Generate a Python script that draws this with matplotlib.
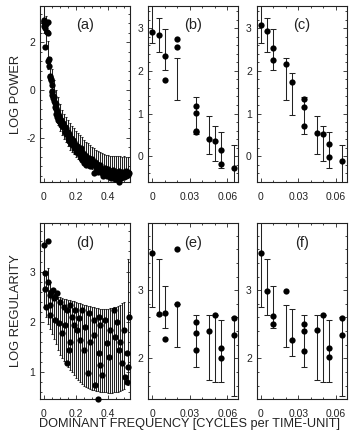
import matplotlib
matplotlib.use("Agg")
import matplotlib.pyplot as plt
from matplotlib.ticker import AutoMinorLocator
import numpy as np

plt.rcParams['font.family'] = ['Liberation Sans', 'DejaVu Sans']
plt.rcParams['axes.unicode_minus'] = False

# ---------------- data ----------------
# panel (a): error bars (frequency grid, low, high) and dots
a_bar_f = [0.0, 0.0125, 0.025, 0.0375, 0.05, 0.0625, 0.075, 0.0875, 0.1, 0.1125, 0.125, 0.1375,
           0.15, 0.1625, 0.175, 0.1875, 0.2, 0.2125, 0.225, 0.2375, 0.25, 0.2625, 0.275, 0.2875,
           0.3, 0.3125, 0.325, 0.3375, 0.35, 0.3625, 0.375, 0.3875, 0.4, 0.4125, 0.425, 0.4375,
           0.45, 0.4625, 0.475, 0.4875, 0.5, 0.5125, 0.525]
a_bar_hi = [3.6, 3.1, 2.05, 1.4, 0.9, 0.4, 0.0, -0.3, -0.6, -0.86, -1.0, -1.12,
            -1.25, -1.38, -1.5, -1.6, -1.7, -1.8, -1.9, -1.98, -2.08, -2.17, -2.24, -2.32,
            -2.38, -2.45, -2.5, -2.56, -2.6, -2.65, -2.68, -2.71, -2.73, -2.75, -2.76, -2.77,
            -2.77, -2.78, -2.78, -2.79, -2.78, -2.8, -2.8]
a_bar_lo = [2.4, 1.9, 0.9, 0.3, -0.3, -0.8, -1.15, -1.45, -1.7, -1.9, -2.05, -2.2,
            -2.35, -2.5, -2.6, -2.7, -2.8, -2.9, -2.95, -3.0, -3.1, -3.15, -3.2, -3.25,
            -3.3, -3.35, -3.4, -3.45, -3.45, -3.5, -3.5, -3.55, -3.55, -3.55, -3.6, -3.6,
            -3.62, -3.62, -3.62, -3.64, -3.64, -3.65, -3.65]
a_dot_f = [0.0, 0.0, 0.005, 0.005, 0.01, 0.01, 0.015, 0.02, 0.025, 0.025, 0.03, 0.035, 0.035,
           0.04, 0.04, 0.045, 0.045, 0.05, 0.05, 0.055, 0.055, 0.06, 0.06, 0.065, 0.065,
           0.07, 0.07, 0.075, 0.075, 0.08, 0.08, 0.085, 0.085, 0.09, 0.09, 0.095, 0.095,
           0.1, 0.1, 0.11, 0.11, 0.12, 0.12, 0.125, 0.13, 0.13, 0.14, 0.14, 0.15, 0.15, 0.155,
           0.16, 0.16, 0.17, 0.17, 0.18, 0.18, 0.19, 0.19, 0.2, 0.2, 0.21, 0.21, 0.22, 0.22,
           0.23, 0.23, 0.24, 0.24, 0.25, 0.25, 0.26, 0.26, 0.27, 0.27, 0.28, 0.28, 0.29, 0.29,
           0.3, 0.3, 0.31, 0.31, 0.32, 0.32, 0.33, 0.33, 0.34, 0.34, 0.35, 0.35, 0.36, 0.36,
           0.37, 0.37, 0.38, 0.38, 0.39, 0.39, 0.4, 0.4, 0.41, 0.41, 0.42, 0.42, 0.43, 0.43,
           0.44, 0.44, 0.45, 0.45, 0.46, 0.46, 0.47, 0.47, 0.48, 0.48, 0.49, 0.49, 0.5, 0.5,
           0.51, 0.51, 0.52, 0.52, 0.53]
a_dot_v = [2.95, 2.85, 2.9, 2.7, 2.6, 1.82, 2.75, 2.45, 2.85, 2.4, 1.2, 1.3, 1.0,
           0.6, 0.55, 0.4, 0.45, 0.2, -0.05, -0.1, -0.2, -0.25, -0.35, -0.3, -0.45,
           -0.55, -0.7, -0.6, -0.8, -0.75, -1.0, -0.9, -1.15, -1.0, -1.25, -1.1, -1.3,
           -1.2, -1.35, -1.25, -1.45, -1.4, -1.55, -1.5, -1.55, -1.75, -1.6, -1.85, -1.75, -2.0, -1.95,
           -1.85, -2.15, -2.0, -2.25, -2.1, -2.3, -2.2, -2.45, -2.3, -2.6, -2.35, -2.55, -2.5, -2.7,
           -2.45, -2.85, -2.6, -2.95, -2.7, -3.05, -2.75, -3.15, -2.9, -3.1, -2.85, -3.15, -3.0, -3.2,
           -3.05, -2.9, -3.5, -3.1, -3.2, -3.0, -3.3, -3.1, -3.25, -3.45, -3.35, -3.15, -3.5, -3.3,
           -3.4, -3.6, -3.25, -3.5, -3.45, -3.6, -3.3, -3.55, -3.65, -3.4, -3.5, -3.7, -3.35, -3.6,
           -3.55, -3.75, -3.45, -3.65, -3.7, -3.5, -3.87, -3.4, -3.55, -3.7, -3.45, -3.6, -3.65, -3.5,
           -3.4, -3.6, -3.55, -3.45, -3.5]

# panels (b), (c)
b_bar_f = [0.0, 0.005, 0.01, 0.02, 0.035, 0.045, 0.05, 0.055, 0.065]
b_bar_lo = [2.65, 2.44, 2.01, 1.31, 0.51, 0.06, -0.12, -0.28, -0.75]
b_bar_hi = [3.8, 3.23, 2.99, 2.31, 1.39, 0.95, 0.72, 0.56, 0.26]
b_dot_f = [0.0, 0.005, 0.01, 0.01, 0.02, 0.02, 0.035, 0.035, 0.035, 0.035, 0.045, 0.05, 0.055, 0.055, 0.065]
b_dot_v = [2.92, 2.83, 2.35, 1.78, 2.74, 2.57, 1.17, 1.01, 0.60, 0.56, 0.41, 0.36, 0.14, -0.19, -0.28]

c_bar_f = [0.0, 0.005, 0.01, 0.02, 0.025, 0.035, 0.045, 0.05, 0.055, 0.065]
c_bar_lo = [2.65, 2.44, 2.01, 1.31, 0.97, 0.51, 0.06, -0.12, -0.28, -0.75]
c_bar_hi = [3.8, 3.23, 2.99, 2.30, 1.96, 1.39, 0.95, 0.72, 0.56, 0.26]
c_dot_f = [0.0, 0.005, 0.01, 0.01, 0.02, 0.025, 0.035, 0.035, 0.035, 0.045, 0.05, 0.055, 0.055, 0.065]
c_dot_v = [3.08, 2.94, 2.53, 2.25, 2.16, 1.74, 1.33, 1.15, 0.72, 0.55, 0.51, 0.29, -0.02, -0.12]

# panel (d)
d_bar_f = [0.0, 0.0125, 0.025, 0.0375, 0.05, 0.0625, 0.075, 0.0875, 0.1, 0.1125, 0.125, 0.1375,
           0.15, 0.1625, 0.175, 0.1875, 0.2, 0.2125, 0.225, 0.2375, 0.25, 0.2625, 0.275, 0.2875,
           0.3, 0.3125, 0.325, 0.3375, 0.35, 0.3625, 0.375, 0.3875, 0.4, 0.4125, 0.425, 0.4375,
           0.45, 0.4625, 0.475, 0.4875, 0.5, 0.52]
d_bar_hi = [4.3, 3.0, 3.07, 2.8, 2.62, 2.56, 2.52, 2.5, 2.49, 2.47, 2.46, 2.45,
            2.44, 2.43, 2.42, 2.41, 2.4, 2.38, 2.37, 2.36, 2.34, 2.33, 2.32, 2.31,
            2.3, 2.29, 2.28, 2.27, 2.26, 2.25, 2.25, 2.25, 2.26, 2.27, 2.28, 2.29,
            2.3, 2.32, 2.34, 2.37, 2.4, 3.26]
d_bar_lo = [2.3, 2.1, 1.95, 1.85, 1.75, 1.65, 1.55, 1.45, 1.35, 1.28, 1.22, 1.16,
            1.1, 1.05, 1.0, 0.94, 0.88, 0.85, 0.8, 0.76, 0.73, 0.71, 0.69, 0.67,
            0.65, 0.64, 0.63, 0.62, 0.61, 0.6, 0.6, 0.6, 0.59, 0.59, 0.59, 0.6,
            0.6, 0.61, 0.62, 0.64, 0.66, 0.75]
d_dot_f = [0.0, 0.025, 0.025, 0.01, 0.015, 0.006, 0.037, 0.042, 0.058, 0.066, 0.042, 0.048, 0.068,
           0.083, 0.073, 0.104, 0.093, 0.124, 0.114, 0.145, 0.135, 0.155, 0.166, 0.176, 0.166,
           0.197, 0.186, 0.145, 0.217, 0.228, 0.207, 0.238, 0.259, 0.248, 0.273, 0.28, 0.29,
           0.31, 0.31, 0.321, 0.342, 0.352, 0.342, 0.352, 0.363, 0.338, 0.383, 0.394, 0.414,
           0.404, 0.435, 0.445, 0.456, 0.466, 0.476, 0.487, 0.497, 0.507, 0.518, 0.528, 0.52, 0.518]
d_dot_v = [3.52, 3.6, 2.8, 2.66, 2.3, 2.97, 2.34, 2.54, 2.64, 2.48, 2.14, 2.6, 2.5,
           2.58, 2.04, 2.4, 1.98, 2.3, 1.78, 2.24, 1.94, 1.44, 2.34, 2.1, 1.6,
           2.24, 1.94, 1.18, 2.08, 1.64, 1.84, 2.24, 1.9, 1.44, 0.99, 2.18, 1.6,
           2.04, 1.74, 0.75, 2.1, 1.94, 1.38, 1.15, 0.95, 0.47, 2.04, 1.58, 1.84,
           1.3, 2.24, 1.7, 2.0, 1.44, 1.6, 1.18, 1.84, 0.91, 1.38, 2.1, 1.1, 0.81]

# panels (e), (f)
e_bar_f = [0.0, 0.005, 0.01, 0.02, 0.035, 0.045, 0.05, 0.055, 0.065]
e_bar_lo = [2.76, 2.63, 2.45, 2.17, 1.87, 1.69, 1.66, 1.65, 1.45]
e_bar_hi = [4.4, 3.46, 3.06, 2.80, 2.64, 2.64, 2.64, 2.56, 2.60]
e_dot_f = [0.0, 0.005, 0.01, 0.01, 0.02, 0.02, 0.035, 0.035, 0.035, 0.045, 0.05, 0.055, 0.055, 0.065, 0.065]
e_dot_v = [3.54, 2.65, 2.66, 2.29, 3.61, 2.80, 2.54, 2.37, 2.12, 2.40, 2.63, 2.15, 2.01, 2.59, 2.34]

f_bar_f = [0.0, 0.005, 0.01, 0.02, 0.025, 0.035, 0.045, 0.05, 0.055, 0.065]
f_bar_lo = [2.75, 2.63, 2.45, 2.17, 2.04, 1.87, 1.69, 1.66, 1.65, 1.45]
f_bar_hi = [4.4, 3.45, 3.06, 2.78, 2.72, 2.64, 2.64, 2.64, 2.56, 2.60]
f_dot_f = [0.0, 0.005, 0.01, 0.01, 0.02, 0.025, 0.035, 0.035, 0.035, 0.045, 0.05, 0.055, 0.055, 0.065, 0.065]
f_dot_v = [3.54, 2.99, 2.62, 2.51, 2.99, 2.27, 2.51, 2.40, 2.11, 2.42, 2.63, 2.15, 2.02, 2.59, 2.34]

panel_labels = ['(a)', '(b)', '(c)', '(d)', '(e)', '(f)']
wide_xticks = [0, 0.2, 0.4]
wide_xticklabels = ['0', '0.2', '0.4']
narrow_xticks = [0, 0.03, 0.06]
narrow_xticklabels = ['0', '0.03', '0.06']

# ---------------- figure ----------------
W, H = 350, 430
fig = plt.figure(figsize=(W / 100, H / 100), dpi=100)

col_left = [40.3, 148.3, 256.7]
col_w = 90.0
row_top = [6.0, 223.3]
row_bot = [182.3, 399.3]

def make_ax(col, row):
    l = col_left[col] / W
    b = 1 - row_bot[row] / H
    h = (row_bot[row] - row_top[row]) / H
    return fig.add_axes([l, b, col_w / W, h])

panels = [
    dict(bf=a_bar_f, blo=a_bar_lo, bhi=a_bar_hi, df=a_dot_f, dv=a_dot_v,
         xlim=(-0.02, 0.537), ylim=(-3.87, 3.52), yt=[-2, 0, 2], wide=True, cap=1.0),
    dict(bf=b_bar_f, blo=b_bar_lo, bhi=b_bar_hi, df=b_dot_f, dv=b_dot_v,
         xlim=(-0.0032, 0.0688), ylim=(-0.61, 3.52), yt=[0, 1, 2, 3], wide=False, cap=2.2),
    dict(bf=c_bar_f, blo=c_bar_lo, bhi=c_bar_hi, df=c_dot_f, dv=c_dot_v,
         xlim=(-0.0032, 0.0688), ylim=(-0.61, 3.52), yt=[0, 1, 2, 3], wide=False, cap=2.2),
    dict(bf=d_bar_f, blo=d_bar_lo, bhi=d_bar_hi, df=d_dot_f, dv=d_dot_v,
         xlim=(-0.02, 0.537), ylim=(0.46, 3.96), yt=[1, 2, 3], wide=True, cap=1.0),
    dict(bf=e_bar_f, blo=e_bar_lo, bhi=e_bar_hi, df=e_dot_f, dv=e_dot_v,
         xlim=(-0.0032, 0.0688), ylim=(1.40, 3.98), yt=[2, 3], wide=False, cap=2.2),
    dict(bf=f_bar_f, blo=f_bar_lo, bhi=f_bar_hi, df=f_dot_f, dv=f_dot_v,
         xlim=(-0.0032, 0.0688), ylim=(1.40, 3.98), yt=[2, 3], wide=False, cap=2.2),
]

for i, p in enumerate(panels):
    ax = make_ax(i % 3, i // 3)
    lo = np.array(p['blo']); hi = np.array(p['bhi'])
    ax.errorbar(p['bf'], (lo + hi) / 2, yerr=(hi - lo) / 2, fmt='none',
                ecolor='#222222', elinewidth=0.75, capsize=p['cap'], capthick=0.75, zorder=2)
    ax.plot(p['df'], p['dv'], 'o', color='black', ms=4.5, mew=0, clip_on=False, zorder=3)
    ax.set_xlim(*p['xlim'])
    ax.set_ylim(*p['ylim'])
    ax.set_yticks(p['yt'])
    ax.set_yticklabels([str(t) for t in p['yt']])
    if p['wide']:
        ax.set_xticks(wide_xticks)
        ax.set_xticklabels(wide_xticklabels)
        ax.xaxis.set_minor_locator(AutoMinorLocator(4))
    else:
        ax.set_xticks(narrow_xticks)
        ax.set_xticklabels(narrow_xticklabels)
        ax.xaxis.set_minor_locator(AutoMinorLocator(3))
    ax.yaxis.set_minor_locator(AutoMinorLocator(5))
    ax.tick_params(which='both', direction='in', top=True, right=True, width=0.6,
                   colors='#222222', labelcolor='#222222', labelsize=7.5)
    ax.tick_params(which='major', length=3)
    ax.tick_params(which='minor', length=1.6)
    ax.tick_params(axis='x', pad=7)
    ax.tick_params(axis='y', pad=3.5)
    for s in ax.spines.values():
        s.set_linewidth(0.8)
        s.set_color('#222222')
    ax.text(0.5, 0.89, panel_labels[i], transform=ax.transAxes, ha='center', va='center',
            fontsize=10.5, color='#222222')

fig.text(16 / W, 1 - 94 / H, 'LOG POWER', rotation=90, ha='center', va='center',
         fontsize=9.3, color='#222222')
fig.text(16 / W, 1 - 311 / H, 'LOG REGULARITY', rotation=90, ha='center', va='center',
         fontsize=9.3, color='#222222')
fig.text(190 / W, 1 - 427 / H, 'DOMINANT FREQUENCY [CYCLES per TIME-UNIT]', ha='center',
         va='baseline', fontsize=9.2, color='#222222')

fig.savefig('out.png', dpi=100)
